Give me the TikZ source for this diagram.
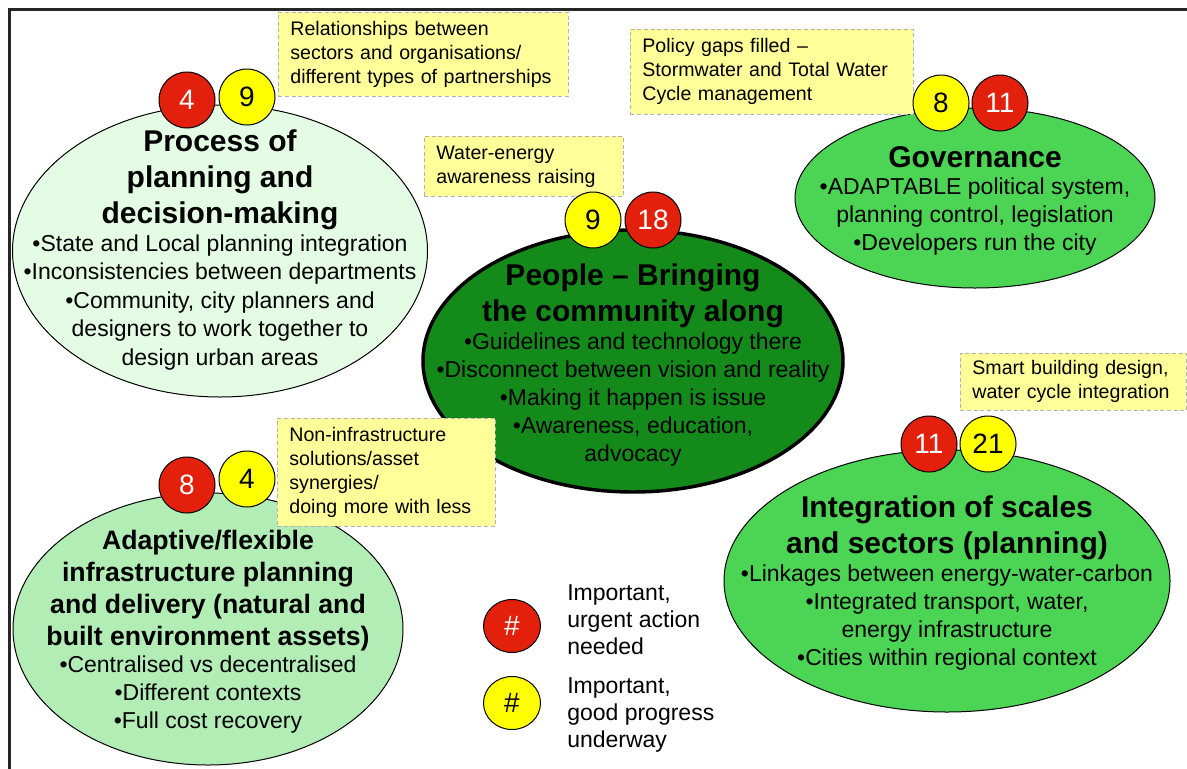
\documentclass[tikz,border=0pt]{standalone}
\usepackage{fontspec}
\setmainfont{Liberation Sans}
\usetikzlibrary{shapes.geometric, positioning, calc}

\definecolor{urgentred}{HTML}{E3200B}
\definecolor{progressyellow}{HTML}{FFFF00}
\definecolor{darkleaf}{HTML}{138A1A}
\definecolor{midleaf}{HTML}{4CD454}
\definecolor{paleleaf}{HTML}{B3EDB6}
\definecolor{mintleaf}{HTML}{E4FCE4}
\definecolor{notefill}{HTML}{FFFF99}

\newcommand{\pxu}{0.75pt}

\tikzset{
    theme/.style={ellipse, draw=black, line width=0.75pt, inner sep=0pt},
    themetitle/.style={align=center, font=\fontsize{22.5}{27}\selectfont\bfseries},
    themebody/.style={align=center, font=\fontsize{17.25}{21}\selectfont},
    note/.style={rectangle, fill=notefill, draw=black!30, densely dashed, line width=0.6pt,
        anchor=north west, align=left, inner xsep=12*\pxu, inner ysep=0pt,
        font=\fontsize{14.7}{18}\selectfont},
    badge/.style={circle, draw=black, line width=0.75pt, minimum size=56*\pxu, inner sep=0pt,
        font=\fontsize{21}{25}\selectfont},
    urgent/.style={badge, fill=urgentred, text=white},
    progress/.style={badge, fill=progressyellow, text=black},
    keymark/.style={ellipse, minimum width=57*\pxu, minimum height=53*\pxu, font=\fontsize{21}{25}\selectfont},
    legendtext/.style={anchor=west, align=left, inner sep=0pt, font=\fontsize{17.25}{20.25}\selectfont}
}

\begin{document}
\begin{tikzpicture}[x=\pxu, y=-\pxu]
        \useasboundingbox (0,0) rectangle (1187,768);

        % Frame
        \draw [line width=1.6pt, black!85] (9.5,775) |- (1195,9.5);

        % Theme ellipses
        \node [theme, fill=mintleaf, minimum width=415*\pxu, minimum height=292*\pxu] (proc) at (220,251) {};
        \node [theme, fill=darkleaf, line width=2.6pt, minimum width=420*\pxu, minimum height=262*\pxu] (people) at (633,361) {};
        \node [theme, fill=midleaf, minimum width=360*\pxu, minimum height=180*\pxu] (gov) at (975,198) {};
        \node [theme, fill=midleaf, minimum width=446*\pxu, minimum height=262*\pxu] (integ) at (947,581) {};
        \node [theme, fill=paleleaf, minimum width=390*\pxu, minimum height=272*\pxu] (adapt) at (208,629) {};

        % Notes (yellow boxes)
        \node [note, text width=266*\pxu, minimum height=84*\pxu] (relNote) at (278,12)
            {Relationships between\\sectors and organisations/\\different types of partnerships};
        \node [note, text width=175*\pxu, minimum height=60*\pxu] (waterNote) at (424,136)
            {Water-energy\\awareness raising};
        \node [note, text width=259*\pxu, minimum height=85*\pxu] (policyNote) at (630,29)
            {Policy gaps filled --\\Stormwater and Total Water\\Cycle management};
        \node [note, text width=202*\pxu, minimum height=57*\pxu] (smartNote) at (960,353)
            {Smart building design,\\water cycle integration};
        \node [note, text width=194*\pxu, minimum height=108*\pxu] (infraNote) at (277,418)
            {Non-infrastructure\\solutions/asset\\synergies/\\doing more with less};

        % Badges
        \node [urgent] (procRed) at (187,100) {4};
        \node [progress] (procYellow) at (247,97) {9};
        \node [progress] (peopleYellow) at (593,220) {9};
        \node [urgent] (peopleRed) at (653,220) {18};
        \node [progress] (govYellow) at (941,103) {8};
        \node [urgent] (govRed) at (1000,103) {11};
        \node [urgent] (integRed) at (929,444) {11};
        \node [progress] (integYellow) at (988,444) {21};
        \node [urgent] (adaptRed) at (187,485) {8};
        \node [progress] (adaptYellow) at (247,479) {4};

        % Theme texts
        \node [themetitle] (procTitle) at (220,180) {Process of\\planning and\\decision-making};
        \node [themebody, font=\fontsize{17.25}{21.4}\selectfont] (procBody) at (220,302.5)
            {•State and Local planning integration\\•Inconsistencies between departments\\•Community, city planners and\\designers to work together to\\design urban areas};

        \node [themetitle] (peopleTitle) at (633,296) {People -- Bringing\\the community along};
        \node [themebody] (peopleBody) at (633,400)
            {•Guidelines and technology there\\•Disconnect between vision and reality\\•Making it happen is issue\\•Awareness, education,\\advocacy};

        \node [themetitle] (govTitle) at (975,157) {Governance};
        \node [themebody] (govBody) at (975,217)
            {•ADAPTABLE political system,\\planning control, legislation\\•Developers run the city};

        \node [themetitle] (integTitle) at (947,527.5) {Integration of scales\\and sectors (planning)};
        \node [themebody] (integBody) at (947,618)
            {•Linkages between energy-water-carbon\\•Integrated transport, water,\\energy infrastructure\\•Cities within regional context};

        \node [themetitle, font=\fontsize{20}{24}\selectfont\bfseries] (adaptTitle) at (208,590.5)
            {Adaptive/flexible\\infrastructure planning\\and delivery (natural and\\built environment assets)};
        \node [themebody] (adaptBody) at (208,695)
            {•Centralised vs decentralised\\•Different contexts\\•Full cost recovery};

        % Legend
        \node [urgent, keymark] (keyRed) at (512,626) {\#};
        \node [progress, keymark] (keyYellow) at (512,703) {\#};
        \node [legendtext] (keyRedText) at (567,620) {Important,\\urgent action\\needed};
        \node [legendtext] (keyYellowText) at (567,714.5) {Important,\\good progress\\underway};
    \end{tikzpicture}
\end{document}
